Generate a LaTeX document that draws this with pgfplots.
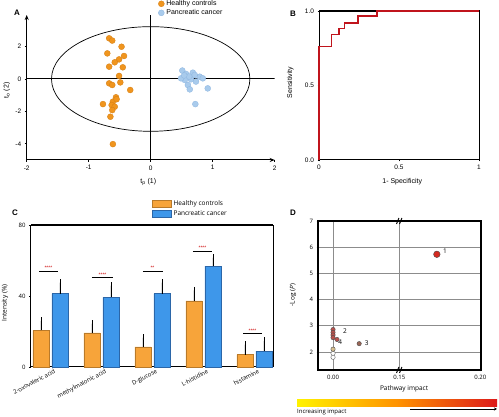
\documentclass[border=0pt]{standalone}
\usepackage{pgfplots}
\pgfplotsset{compat=1.18}
\usepackage{fontspec}
\setmainfont{Liberation Sans}
\newfontfamily\osans{Open Sans}
\usetikzlibrary{arrows.meta}
\definecolor{orA}{HTML}{F0951E}
\definecolor{orAe}{HTML}{D47E14}
\definecolor{blA}{HTML}{A9CBEC}
\definecolor{blAe}{HTML}{8DB5E0}
\definecolor{orC}{HTML}{F7A43A}
\definecolor{orCe}{HTML}{B97A2A}
\definecolor{blC}{HTML}{3E97EA}
\definecolor{blCe}{HTML}{2B66A8}
\definecolor{rocred}{HTML}{C0141C}
\definecolor{p1}{HTML}{D42A20}
\definecolor{p2}{HTML}{B8514C}
\definecolor{p3}{HTML}{9A6656}
\definecolor{p5}{HTML}{D8C090}
\pgfplotsset{
  every axis/.append style={scale only axis, /pgf/number format/assume math mode=true,
    tick label style={font=\fontsize{6.5}{7}\selectfont}, label style={font=\fontsize{7}{8}\selectfont}},
}
\begin{document}
\begin{tikzpicture}[x=1pt,y=1pt]
\useasboundingbox (0,0) rectangle (499,417);
% ---------------- Panel A
\begin{axis}[at={(26.7pt,257pt)}, anchor=south west, width=248pt, height=145pt,
  xmin=-2, xmax=2, ymin=-5, ymax=3.95,
  axis lines=left, axis line style={line width=1pt, -{Stealth[length=5pt,width=4pt]}},
  xtick={-2,-1,0,1,2}, ytick={-4,-2,0,2}, tick align=outside, major tick length=2pt,
  tick style={black, line width=0.6pt},
  xlabel={t$_{\mathrm{p}}$ (1)}, ylabel={t$_{\mathrm{o}}$ (2)},
  xlabel style={at={(axis description cs:0.49,-0.15)}, anchor=center},
  ylabel style={at={(axis description cs:-0.08,0.48)}, anchor=center, rotate=0},
  legend style={at={(axis description cs:0.53,1.115)}, anchor=north west, draw=none, fill=none,
    font=\fontsize{7}{8}\selectfont, row sep=-1.5pt, inner sep=0pt},
  legend cell align=left,
]
\draw[line width=1pt] (axis cs:-2,0) -- (axis cs:2,0);
\draw[line width=1pt] (axis cs:0,-5) -- (axis cs:0,3.95);
\draw[line width=0.7pt] (axis cs:0,0) ellipse [x radius=1.6, y radius=3.23];
\addplot[only marks, mark=*, mark size=3pt, mark options={fill=orA, draw=orAe, line width=0.3pt}]
coordinates {(-0.67,2.51)(-0.62,2.37)(-0.47,1.99)(-0.70,1.58)(-0.43,1.42)(-0.51,1.21)(-0.58,1.03)
(-0.67,0.76)(-0.45,0.72)(-0.51,0.19)(-0.49,-0.21)(-0.67,-0.27)(-0.62,-0.37)(-0.33,-0.68)
(-0.56,-1.13)(-0.61,-1.40)(-0.77,-1.55)(-0.63,-1.61)(-0.58,-1.71)(-0.62,-1.92)(-0.55,-1.25)
(-0.65,-2.33)(-0.61,-4.02)};
\addlegendentry{Healthy controls}
\addplot[only marks, mark=*, mark size=3pt, mark options={fill=blA, draw=blAe, line width=0.3pt}]
coordinates {(0.51,0.52)(0.57,0.31)(0.68,0.39)(0.79,0.14)(0.55,-0.06)(0.65,-0.02)(0.73,-0.16)
(0.60,-0.37)(0.49,0.04)(0.71,0.25)(0.63,-0.64)(0.92,-0.58)(0.72,-1.55)(0.84,0.04)(0.62,0.15)(0.54,0.22)};
\addlegendentry{Pancreatic cancer}
\end{axis}
\node[font=\bfseries\fontsize{8}{9}\selectfont] at (17,404) {A};
% ---------------- Panel B
\begin{axis}[at={(319pt,257pt)}, anchor=south west, width=160pt, height=149pt,
  xmin=0, xmax=1, ymin=0, ymax=1, clip=false,
  axis line style={line width=1pt},
  xtick={0,0.5,1}, ytick={0,0.5,1}, xticklabels={0,0.5,1}, yticklabels={0.0,0.5,1.0},
  tick align=outside, major tick length=1.5pt, tick style={black},
  xtick pos=bottom, ytick pos=left,
  xlabel={1- Specificity}, ylabel={Sensitivity},
  xlabel style={at={(axis description cs:0.52,-0.148)}, anchor=center},
  ylabel style={at={(axis description cs:-0.18,0.52)}, anchor=center},
]
\draw[line width=1.6pt] (axis cs:0,1) -- (axis cs:0.36,1);
\addplot[rocred, line width=1.2pt] coordinates {(0,0)(0,0.76)(0.077,0.76)(0.077,0.843)(0.125,0.843)
(0.125,0.88)(0.16,0.88)(0.16,0.92)(0.244,0.92)(0.244,0.966)(0.363,0.966)(0.363,1)(1,1)};
\end{axis}
\node[font=\bfseries\fontsize{8}{9}\selectfont] at (293,403) {B};
% ---------------- Panel C
\begin{axis}[at={(31pt,50pt)}, anchor=south west, width=242pt, height=142pt,
  ybar, bar width=16pt, xmin=-0.382, xmax=4.363, ymin=0, ymax=80, clip=false,
  axis line style={line width=1pt},
  tick label style={font=\osans\fontsize{6}{7}\selectfont},
  label style={font=\osans\fontsize{6.5}{7}\selectfont},
  xtick=data, xticklabels={2-oxovaleric acid, methylmalonic acid, D-glucose, L-histidine, histamine},
  xticklabel style={rotate=28, anchor=north east, inner sep=1pt, xshift=4pt},
  ytick={0,40,80}, ytick pos=left, xtick pos=bottom, major x tick style={draw=none},
  tick align=outside, major tick length=2pt, tick style={black},
  ylabel={Intensity (\%)},
  ylabel style={at={(axis description cs:-0.107,0.45)}, anchor=center},
  legend style={at={(axis description cs:0.5,1.19)}, anchor=north west, draw=none, fill=none,
    font=\osans\fontsize{6.5}{7}\selectfont, row sep=0pt, inner sep=0pt},
  legend cell align=left,
  legend image code/.code={\draw[#1] (0pt,-3.5pt) rectangle (19pt,3.5pt);},
]
\draw[line width=1.8pt] (axis cs:-0.382,80) -- (axis cs:4.363,80);
\addplot[fill=orC, draw=orCe, line width=0.4pt, bar shift=-9.5pt,
  error bars/.cd, y dir=plus, y explicit, error bar style={black, line width=0.7pt},
  error mark options={black, mark size=3.5pt, line width=0.7pt}]
coordinates {(0,20.7) +- (0,5.3) (1,19.2) +- (0,5.3) (2,11.3) +- (0,5.3) (3,37.3) +- (0,5.8) (4,7.0) +- (0,5.6)};
\addlegendentry{Healthy controls}
\addplot[fill=blC, draw=blCe, line width=0.4pt, bar shift=9.5pt,
  error bars/.cd, y dir=plus, y explicit, error bar style={black, line width=0.7pt},
  error mark options={black, mark size=3.5pt, line width=0.7pt}]
coordinates {(0,41.4) +- (0,6.1) (1,39.2) +- (0,6.6) (2,41.4) +- (0,6.1) (3,56.9) +- (0,4.7) (4,9.0) +- (0,5.7)};
\addlegendentry{Pancreatic cancer}
\draw[line width=1.1pt] (axis cs:-0.225,54.0) -- (axis cs:0.147,54.0);
\draw[line width=1.1pt] (axis cs:0.81,50.3) -- (axis cs:1.23,50.3);
\draw[line width=1.1pt] (axis cs:1.81,54.0) -- (axis cs:2.2,54.0);
\draw[line width=1.1pt] (axis cs:2.79,65.3) -- (axis cs:3.17,65.3);
\draw[line width=1.1pt] (axis cs:3.78,18.8) -- (axis cs:4.14,18.8);
\begin{scope}[every node/.style={red!80!black, font=\fontsize{5}{5}\selectfont, inner sep=0.5pt, anchor=south}]
\node at (axis cs:-0.04,54.3) {****};
\node at (axis cs:1.02,50.6) {****};
\node at (axis cs:2.0,54.3) {**};
\node at (axis cs:2.98,65.6) {****};
\node at (axis cs:3.96,19.1) {****};
\end{scope}
\end{axis}
\node[font=\bfseries\fontsize{8}{9}\selectfont] at (15,204) {C};
% ---------------- Panel D
\begin{axis}[at={(318pt,47pt)}, anchor=south west, width=163pt, height=149pt,
  xmin=-0.227, xmax=2.232, ymin=1.315, ymax=7, clip=false,
  axis line style={line width=1.3pt},
  tick label style={font=\osans\fontsize{6}{7}\selectfont},
  label style={font=\osans\fontsize{6.5}{7}\selectfont},
  xtick={0,1,2.222}, xticklabels={0.00,0.15,0.20}, ytick={2,3,4,5,6,7},
  xtick pos=bottom, ytick pos=left, tick align=outside, major tick length=1.5pt, tick style={black},
  grid=major, grid style={black!45, line width=0.7pt},
  xlabel={Pathway impact}, ylabel={-Log (\textit{P})},
  xlabel style={at={(axis description cs:0.528,-0.128)}, anchor=center},
  ylabel style={at={(axis description cs:-0.153,0.503)}, anchor=center},
]
\addplot[only marks, mark=*, mark size=2.2pt, mark options={fill=white, draw=gray!70!black, line width=0.4pt}]
coordinates {(0,1.95)(0,1.80)};
\addplot[only marks, mark=*, mark size=2.2pt, mark options={fill=p5, draw=gray!60!black, line width=0.4pt}]
coordinates {(0,2.11)};
\addplot[only marks, mark=*, mark size=2.2pt, mark options={fill=p2, draw=black!70, line width=0.4pt}]
coordinates {(0,2.86)(0,2.75)(0,2.65)(0,2.55)(0.06,2.48)};
\addplot[only marks, mark=*, mark size=2.2pt, mark options={fill=p3, draw=black!70, line width=0.4pt}]
coordinates {(0.394,2.32)};
\addplot[only marks, mark=*, mark size=3.3pt, mark options={fill=p1, draw=black!70, line width=0.4pt}]
coordinates {(1.566,5.73)};
\begin{scope}[every node/.style={font=\osans\fontsize{6.5}{7}\selectfont, inner sep=0pt}]
\node at (axis cs:1.69,5.86) {1};
\node at (axis cs:0.18,2.8) {2};
\node at (axis cs:0.51,2.33) {3};
\node at (axis cs:0.11,2.36) {4};
\end{scope}
\draw[line width=0.9pt] ([xshift=-2.8pt,yshift=-3pt]axis cs:1,7) -- ++(2.4pt,6pt);
\draw[line width=0.9pt] ([xshift=0.2pt,yshift=-3pt]axis cs:1,7) -- ++(2.4pt,6pt);
\draw[line width=0.9pt] ([xshift=-2.8pt,yshift=-3pt]axis cs:1,1.315) -- ++(2.4pt,6pt);
\draw[line width=0.9pt] ([xshift=0.2pt,yshift=-3pt]axis cs:1,1.315) -- ++(2.4pt,6pt);
\end{axis}
\node[font=\bfseries\fontsize{8}{9}\selectfont] at (293,204) {D};
% colour bar
\shade[left color=yellow!90!orange, right color=red!85!black!90, middle color=orange!85!yellow] (297,10) rectangle (497,17);
\node[font=\osans\fontsize{6}{7}\selectfont, anchor=west, inner sep=0pt] at (297,4.5) {Increasing impact};
\draw[-{Stealth[length=3pt,width=3pt]}, line width=0.5pt] (410,8) -- (497,8);
\end{tikzpicture}
\end{document}
